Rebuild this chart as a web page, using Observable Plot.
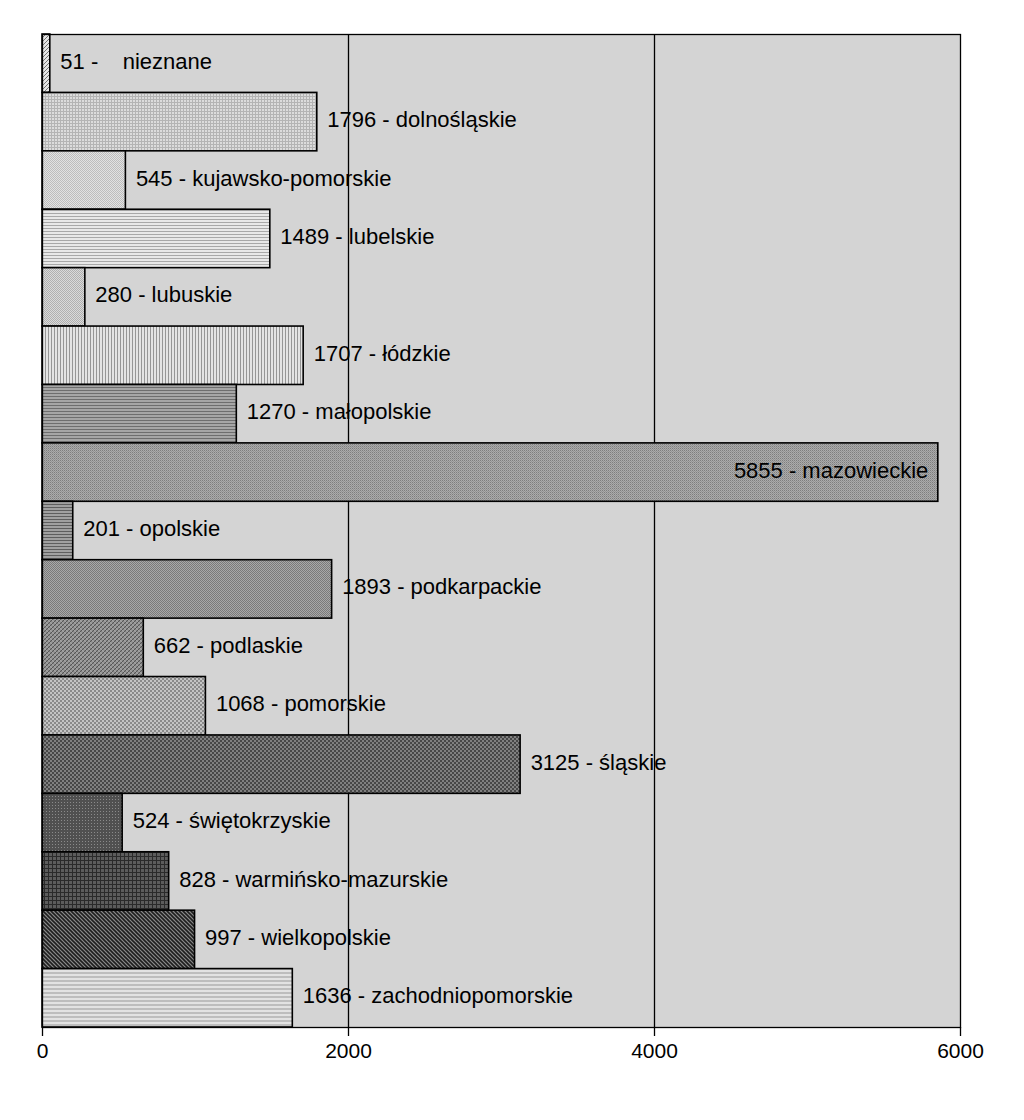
<!DOCTYPE html>
<html>
<head>
<meta charset="utf-8">
<script src="https://cdn.jsdelivr.net/npm/d3@7"></script>
<script src="https://cdn.jsdelivr.net/npm/@observablehq/plot@0.6"></script>
<style>
  body { margin: 0; background: #fff; }
  #chart svg { display: block; }
</style>
</head>
<body>
<div id="chart"></div>
<script>
const regions = ["nieznane", "dolnośląskie", "kujawsko-pomorskie", "lubelskie", "lubuskie", "łódzkie", "małopolskie", "mazowieckie", "opolskie", "podkarpackie", "podlaskie", "pomorskie", "śląskie", "świętokrzyskie", "warmińsko-mazurskie", "wielkopolskie", "zachodniopomorskie"];
const values = [51, 1796, 545, 1489, 280, 1707, 1270, 5855, 201, 1893, 662, 1068, 3125, 524, 828, 997, 1636];
const xTicks = [0, 2000, 4000, 6000];

const data = regions.map((r, i) => ({
  region: r,
  value: values[i],
  pat: `url(#pat${i})`,
  label: r === "nieznane" ? `${values[i]} -\u00a0\u00a0\u00a0\u00a0${r}` : `${values[i]} - ${r}`,
  inside: values[i] > 5000
}));

const plot = Plot.plot({
  width: 1024,
  height: 1120,
  marginLeft: 42,
  marginRight: 64,
  marginTop: 34,
  marginBottom: 93,
  style: { fontFamily: "Liberation Sans, Arial, sans-serif", background: "#fff", color: "#000" },
  x: { domain: [0, 6000], ticks: xTicks, tickSize: 9, tickPadding: 6, label: null, tickFormat: d => String(d) },
  y: { domain: regions, axis: null, padding: 0, round: false },
  color: { type: "identity" },
  marks: [
    Plot.frame({ fill: "#d4d4d4" }),
    Plot.ruleX([2000, 4000], { stroke: "#000", strokeWidth: 1.3 }),
    Plot.barX(data, { x: "value", y: "region", fill: "pat", stroke: "#000", strokeWidth: 1.6 }),
    Plot.text(data.filter(d => !d.inside), { x: "value", y: "region", text: "label", textAnchor: "start", dx: 10, dy: -2, fontSize: 22, fill: "#000" }),
    Plot.text(data.filter(d => d.inside), { x: "value", y: "region", text: "label", textAnchor: "end", dx: -10, dy: -2, fontSize: 22, fill: "#000" }),
    Plot.frame({ stroke: "#000", strokeWidth: 1.3 }),
    Plot.axisX({ ticks: xTicks, tickSize: 9, tickPadding: 7, fontSize: 21, label: null, tickFormat: d => String(d), strokeWidth: 1.3 })
  ]
});

// Pattern definitions (tile-based, approximating the gray fills)
const svgNS = "http://www.w3.org/2000/svg";
const defs = document.createElementNS(svgNS, "defs");
function pattern(id, size, bg, shapes) {
  const p = document.createElementNS(svgNS, "pattern");
  p.setAttribute("id", id);
  p.setAttribute("patternUnits", "userSpaceOnUse");
  p.setAttribute("width", size);
  p.setAttribute("height", size);
  const r = document.createElementNS(svgNS, "rect");
  r.setAttribute("width", size); r.setAttribute("height", size); r.setAttribute("fill", bg);
  p.appendChild(r);
  for (const s of shapes) {
    const el = document.createElementNS(svgNS, s.tag);
    for (const k in s) if (k !== "tag") el.setAttribute(k, s[k]);
    p.appendChild(el);
  }
  defs.appendChild(p);
}
const rect = (x, y, w, h, fill) => ({ tag: "rect", x, y, width: w, height: h, fill });
const line = (x1, y1, x2, y2, stroke, w) => ({ tag: "line", x1, y1, x2, y2, stroke, "stroke-width": w });

// 0 nieznane: light diagonal hatch
pattern("pat0", 4, "#e6e6e6", [line(0, 4, 4, 0, "#777", 1), line(-1, 1, 1, -1, "#777", 1), line(3, 5, 5, 3, "#777", 1)]);
// 1 dolnośląskie: light fine grid
pattern("pat1", 3, "#dcdcdc", [rect(0, 0, 3, 1, "#b4b4b4"), rect(0, 0, 1, 3, "#b4b4b4")]);
// 2 kujawsko-pomorskie: very light checker
pattern("pat2", 2, "#e2e2e2", [rect(0, 0, 1, 1, "#bdbdbd"), rect(1, 1, 1, 1, "#bdbdbd")]);
// 3 lubelskie: light horizontal lines
pattern("pat3", 3, "#e8e8e8", [rect(0, 0, 3, 1, "#a8a8a8")]);
// 4 lubuskie: light checker
pattern("pat4", 2, "#dadada", [rect(0, 0, 1, 1, "#b0b0b0"), rect(1, 1, 1, 1, "#b0b0b0")]);
// 5 łódzkie: vertical lines
pattern("pat5", 3, "#e4e4e4", [rect(0, 0, 1, 3, "#969696")]);
// 6 małopolskie: medium horizontal lines
pattern("pat6", 3, "#a6a6a6", [rect(0, 0, 3, 1, "#6e6e6e")]);
// 7 mazowieckie: medium fine dots
pattern("pat7", 2, "#ababab", [rect(0, 0, 1, 1, "#7e7e7e"), rect(1, 1, 1, 1, "#949494")]);
// 8 opolskie: darker horizontal lines
pattern("pat8", 3, "#a0a0a0", [rect(0, 0, 3, 1, "#5e5e5e")]);
// 9 podkarpackie: medium checker
pattern("pat9", 2, "#a8a8a8", [rect(0, 0, 1, 1, "#7a7a7a"), rect(1, 1, 1, 1, "#7a7a7a")]);
// 10 podlaskie: diagonal crosshatch medium-dark
pattern("pat10", 4, "#9a9a9a", [line(0, 4, 4, 0, "#555", 1.2), line(-1, 1, 1, -1, "#555", 1.2), line(3, 5, 5, 3, "#555", 1.2), line(0, 0, 4, 4, "#b8b8b8", 0.6)]);
// 11 pomorskie: checker medium-light
pattern("pat11", 4, "#c4c4c4", [rect(0, 0, 2, 2, "#8a8a8a"), rect(2, 2, 2, 2, "#8a8a8a")]);
// 12 śląskie: dark checker
pattern("pat12", 4, "#808080", [rect(0, 0, 2, 2, "#474747"), rect(2, 2, 2, 2, "#474747")]);
// 13 świętokrzyskie: dark dots
pattern("pat13", 3, "#505050", [rect(1, 1, 1, 1, "#8a8a8a")]);
// 14 warmińsko-mazurskie: dark grid
pattern("pat14", 4, "#5c5c5c", [rect(0, 0, 4, 1, "#2a2a2a"), rect(0, 0, 1, 4, "#2a2a2a")]);
// 15 wielkopolskie: dark diagonal (\)
pattern("pat15", 4, "#8a8a8a", [line(0, 0, 4, 4, "#1e1e1e", 1.6), line(-1, 3, 1, 5, "#1e1e1e", 1.6), line(3, -1, 5, 1, "#1e1e1e", 1.6)]);
// 16 zachodniopomorskie: light horizontal lines
pattern("pat16", 4, "#e2e2e2", [rect(0, 0, 4, 2, "#bdbdbd")]);

plot.insertBefore(defs, plot.firstChild);
document.getElementById("chart").appendChild(plot);
</script>
</body>
</html>
